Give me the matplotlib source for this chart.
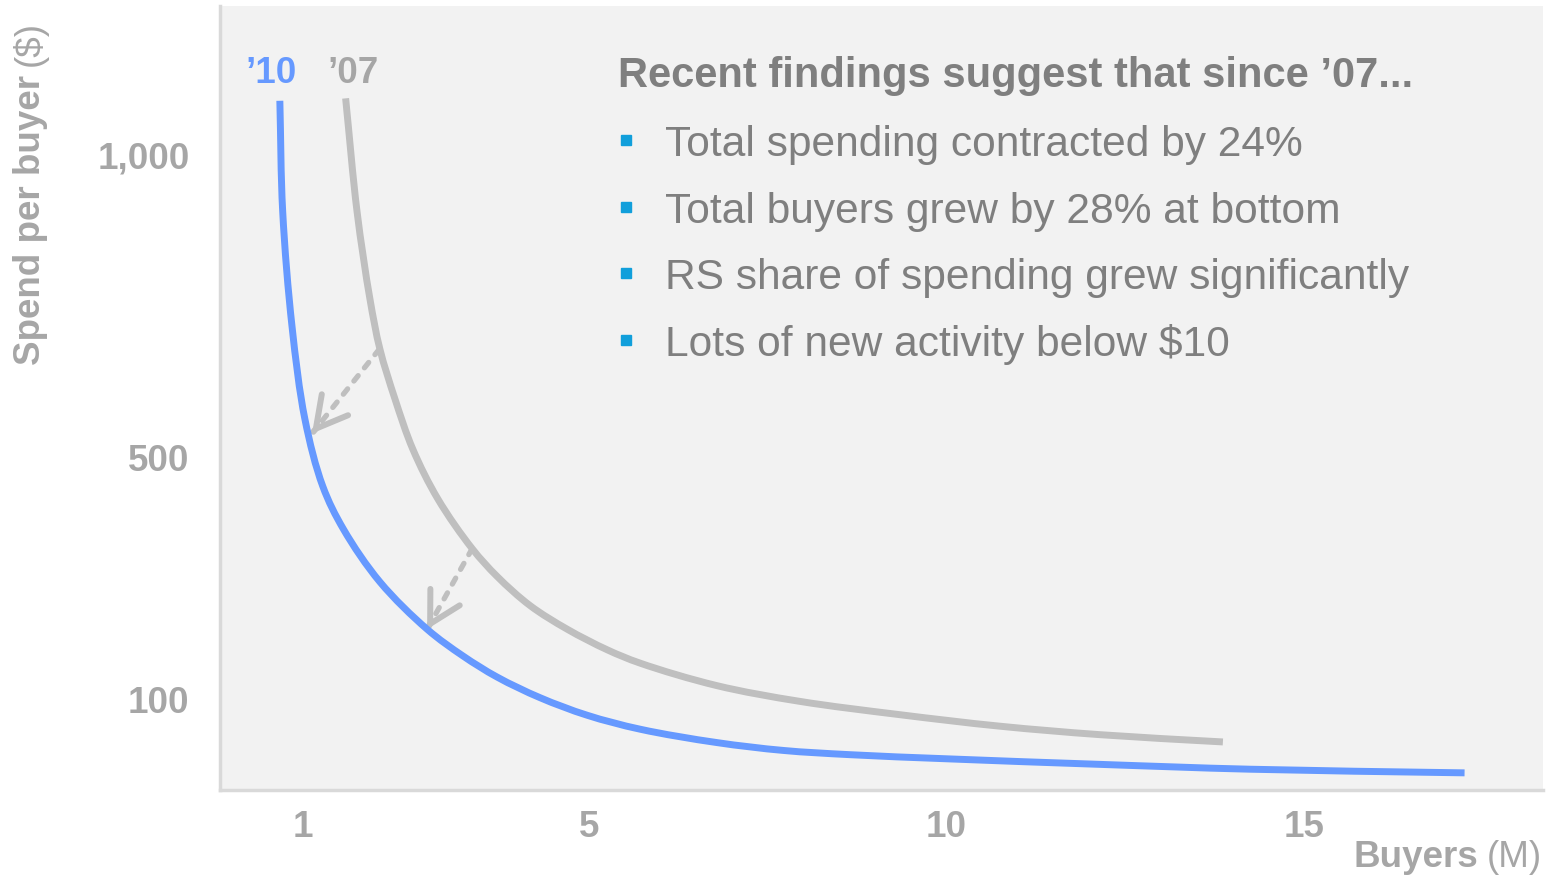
import matplotlib
matplotlib.use("Agg")
import numpy as np
import matplotlib.pyplot as plt
from matplotlib.patches import Rectangle, PathPatch
from matplotlib.path import Path

plt.rcParams['font.family'] = ['Liberation Sans', 'DejaVu Sans']

# buyers (M) and spend per buyer ($) along each curve
buyers_07 = [1.60, 1.76, 1.94, 2.08, 2.29, 2.54, 2.89, 3.37, 3.72, 4.18, 4.70,
             5.26, 5.72, 6.79, 7.95, 9.35, 10.75, 12.15, 13.87]
spend_07 = [1091, 904, 760, 677, 595, 512, 430, 348, 302, 254, 215,
            181, 159, 122, 96, 74, 55, 41, 29]

buyers_10 = [0.68, 0.72, 0.85, 1.03, 1.28, 1.57, 2.08, 2.74, 3.24, 3.72, 4.32,
             4.98, 5.72, 6.79, 7.72, 8.65, 10.05, 12.15, 14.25, 17.25]
spend_10 = [1087, 904, 715, 562, 451, 380, 293, 215, 171, 136, 102,
            73, 50, 28, 15, 8, 1, -8, -16, -22]

# shift arrows: from the '07 curve to the '10 curve
shift_from = [(2.07, 677), (3.37, 348)]
shift_to = [(1.13, 538), (2.74, 215)]

x_ticks = [1, 5, 10, 15]
x_tick_labels = ['1', '5', '10', '15']
y_ticks = [100, 500, 1000]
y_tick_labels = ['100', '500', '1,000']

title = 'Recent findings suggest that since \u201907...'
findings = [
    'Total spending contracted by 24%',
    'Total buyers grew by 28% at bottom',
    'RS share of spending grew significantly',
    'Lots of new activity below $10',
]

BLUE = '#6699ff'
CURVE_GREY = '#bfbfbf'
LABEL_GREY = '#a6a6a6'
TEXT_GREY = '#7f7f7f'
BULLET = '#119fdb'

W, H = 1551, 878


def fpos(x, y):
    # pixel position (from top-left) to figure fraction
    return x / W, 1 - y / H


def smooth_path(ax, xs, ys):
    # centripetal Catmull-Rom through the points (in screen space), as Bezier segments
    pts = ax.transData.transform(np.column_stack([xs, ys]))
    pts = np.vstack([2 * pts[0] - pts[1], pts, 2 * pts[-1] - pts[-2]])
    verts = [pts[1]]
    codes = [Path.MOVETO]
    for i in range(1, len(pts) - 2):
        p0, p1, p2, p3 = pts[i - 1], pts[i], pts[i + 1], pts[i + 2]
        d1 = np.linalg.norm(p1 - p0) ** 0.5
        d2 = np.linalg.norm(p2 - p1) ** 0.5
        d3 = np.linalg.norm(p3 - p2) ** 0.5
        b1 = (d1**2 * p2 - d2**2 * p0 + (2 * d1**2 + 3 * d1 * d2 + d2**2) * p1) / (3 * d1 * (d1 + d2))
        b2 = (d3**2 * p1 - d2**2 * p3 + (2 * d3**2 + 3 * d3 * d2 + d2**2) * p2) / (3 * d3 * (d3 + d2))
        verts += [b1, b2, p2]
        codes += [Path.CURVE4] * 3
    return Path(ax.transData.inverted().transform(np.array(verts)), codes)


fig = plt.figure(figsize=(W / 100, H / 100), dpi=100)
ax = fig.add_axes([220 / W, 1 - 791 / H, 1323 / W, 784 / H])
ax.set_facecolor('#f2f2f2')
ax.set_xlim(-0.157, 18.347)
ax.set_ylim(-50.3, 1243.4)

for xs, ys, col in [(buyers_07, spend_07, CURVE_GREY), (buyers_10, spend_10, BLUE)]:
    ax.add_patch(PathPatch(smooth_path(ax, xs, ys), fill=False, edgecolor=col, lw=5,
                           capstyle='butt', joinstyle='round', zorder=3))

for (x0, y0), (x1, y1) in zip(shift_from, shift_to):
    ax.annotate('', xy=(x1, y1), xytext=(x0, y0),
                arrowprops=dict(arrowstyle='-', color=CURVE_GREY, lw=3.8,
                                linestyle=(0, (1.3, 1.9)), shrinkA=0, shrinkB=4),
                zorder=2)
    ax.annotate('', xy=(x1, y1), xytext=(x1 + (x0 - x1) * 0.02, y1 + (y0 - y1) * 0.02),
                arrowprops=dict(arrowstyle='->,head_length=1.0,head_width=0.55',
                                color=CURVE_GREY, lw=4.3, mutation_scale=22,
                                shrinkA=0, shrinkB=0, capstyle='round'),
                zorder=2)

ax.text(0.56, 1118, '\u201910', color=BLUE, fontsize=26.5, fontweight='bold',
        ha='center', va='baseline')
ax.text(1.70, 1118, '\u201907', color=LABEL_GREY, fontsize=26.5, fontweight='bold',
        ha='center', va='baseline')

ax.set_xticks(x_ticks)
ax.set_xticklabels(x_tick_labels)
ax.set_yticks(y_ticks)
ax.set_yticklabels(y_tick_labels)
ax.tick_params(length=0, labelsize=26.5, labelcolor=LABEL_GREY)
ax.tick_params(axis='y', pad=22)
ax.tick_params(axis='x', pad=14)
for lbl in ax.get_xticklabels() + ax.get_yticklabels():
    lbl.set_fontweight('bold')

for side in ['top', 'right']:
    ax.spines[side].set_visible(False)
for side in ['left', 'bottom']:
    ax.spines[side].set_color('#d9d9d9')
    ax.spines[side].set_linewidth(2.5)

# findings box
fig.text(*fpos(618, 87), title, fontsize=30, fontweight='bold', color=TEXT_GREY,
         ha='left', va='baseline')
for i, line in enumerate(findings):
    yc = 141 + i * 66.7
    fig.patches.append(Rectangle(fpos(621, yc + 5), 10 / W, 10 / H,
                                 transform=fig.transFigure, color=BULLET))
    fig.text(*fpos(665, yc + 15), line, fontsize=30.6, color=TEXT_GREY,
             ha='left', va='baseline')

# axis titles: bold name followed by a regular unit
ylab = fig.text(*fpos(40, 365), 'Spend per buyer', fontsize=26.5, fontweight='bold',
                color=LABEL_GREY, rotation=90, rotation_mode='anchor',
                ha='left', va='baseline')
xunit = fig.text(*fpos(1542, 867), '(M)', fontsize=26.5, color=LABEL_GREY,
                 ha='right', va='baseline')
fig.canvas.draw()
r = fig.canvas.get_renderer()
bb = ylab.get_window_extent(r)
fig.text(40 / W, (bb.y1 + 9) / H, '($)', fontsize=26.5, color=LABEL_GREY,
         rotation=90, rotation_mode='anchor', ha='left', va='baseline')
bb = xunit.get_window_extent(r)
fig.text((bb.x0 - 9) / W, 1 - 867 / H, 'Buyers', fontsize=26.5, fontweight='bold',
         color=LABEL_GREY, ha='right', va='baseline')

fig.savefig('out.png', dpi=100, facecolor='white')
